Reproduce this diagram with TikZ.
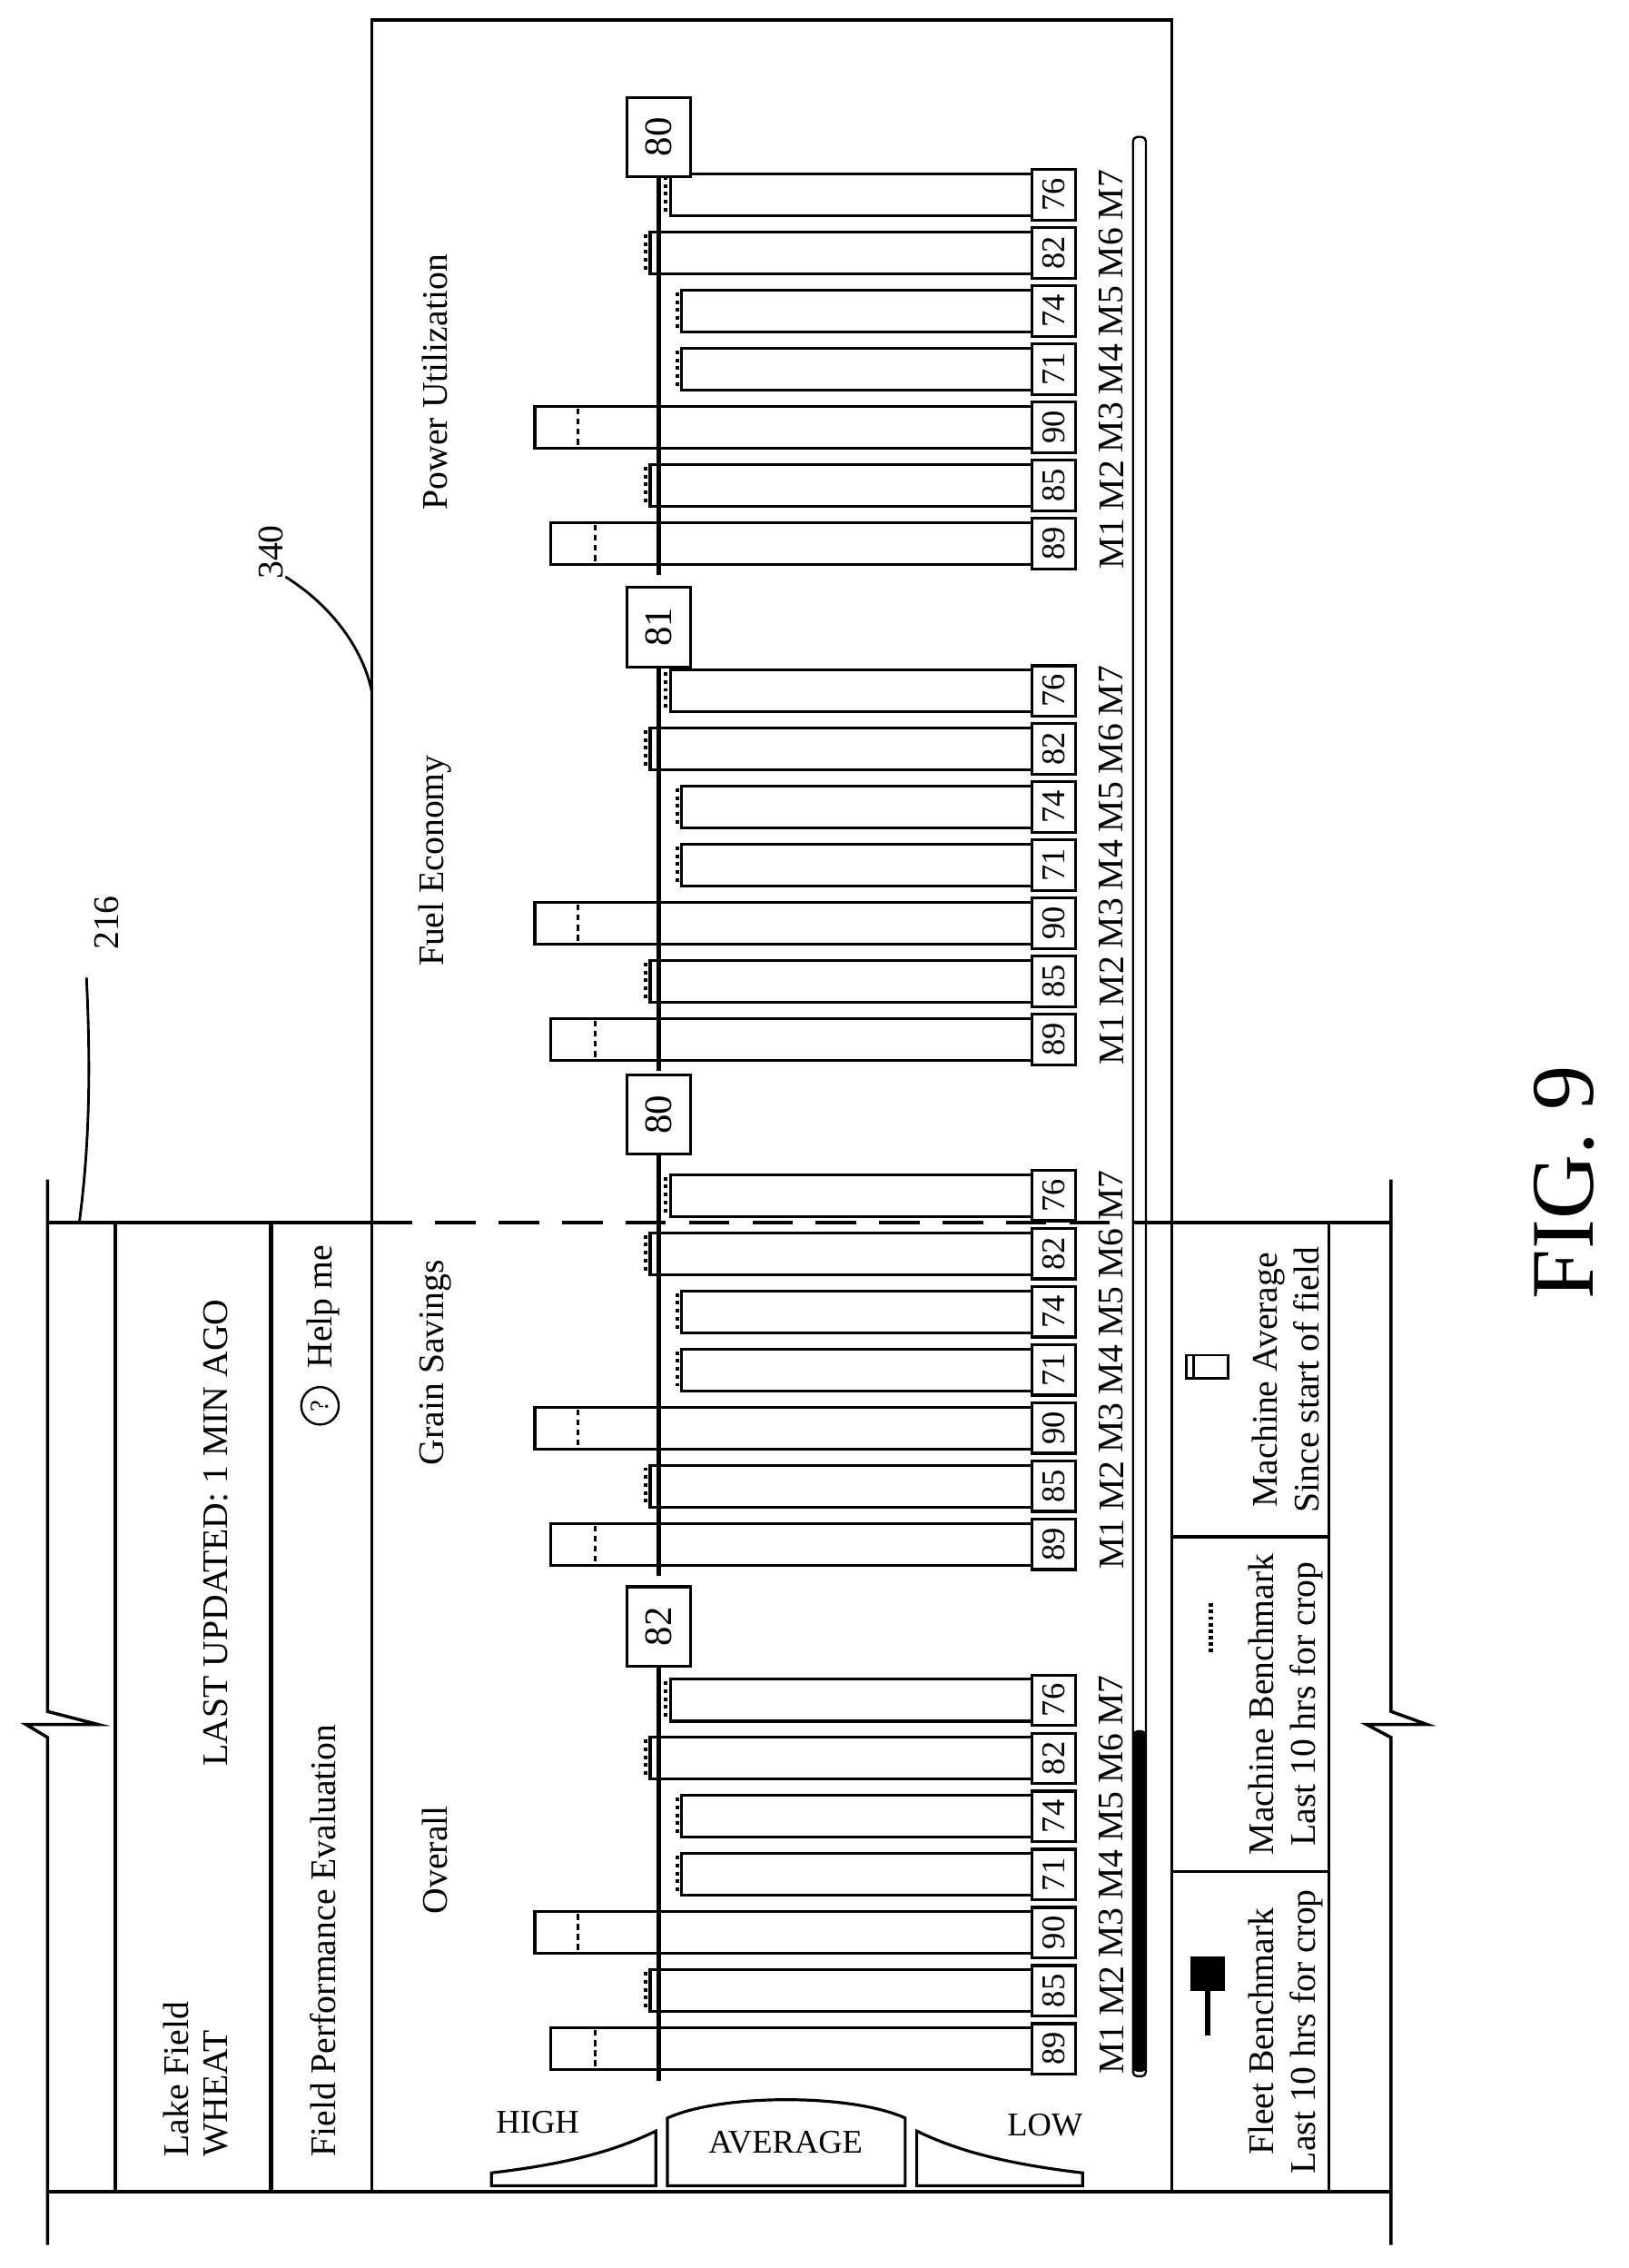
\documentclass[tikz,border=0pt]{standalone}
\usepackage{fontspec}
\setmainfont{Liberation Serif}
\begin{document}
\begin{tikzpicture}[x=1pt,y=-1pt,line width=2.2pt,
 txt/.style={font=\fontsize{25}{29}\selectfont, rotate=90, inner sep=0},
 up/.style={font=\fontsize{23}{26}\selectfont, inner sep=0},
 vbox/.style={draw, line width=2pt, rotate=90, minimum width=35pt, minimum height=30pt, inner sep=0, font=\fontsize{23}{24}\selectfont},
 abox/.style={draw, line width=2pt, rotate=90, minimum width=55pt, minimum height=44pt, inner sep=0, font=\fontsize{27}{28}\selectfont},
 bar/.style={line width=2pt},
 avgline/.style={line width=3.5pt},
 dotmark/.style={line width=2.6pt, dash pattern=on 2.5pt off 3pt},
 dashmark/.style={line width=1.8pt, dash pattern=on 4pt off 3pt},
 lead/.style={line width=1.8pt}]
\useasboundingbox (0,0) rectangle (1130,1573);
% outer frame
\draw (33,818) -- (33,1187) -- (68,1196) -- (18,1196) -- (33,1205) -- (33,1557);
\draw (965,818) -- (965,1187) -- (990,1196) -- (948,1196) -- (965,1205) -- (965,1557);
\draw (33,848) -- (258,848);
\draw (813,848) -- (965,848);
\draw[dash pattern=on 28pt off 16pt] (258,848) -- (813,848);
\draw (33,1520) -- (965,1520);
\draw (80,848) -- (80,1520);
\draw[line width=3pt] (188,848) -- (188,1520);
\draw (258,14) rectangle (813,1520);
\draw (922,848) -- (922,1520);
\draw (813,1066) -- (922,1066);
\draw (813,1298) -- (922,1298);
% header texts
\node[txt,anchor=west] (lake) at (122,1497) {Lake Field};
\node[txt,anchor=west] (wheat) at (150,1497) {WHEAT};
\node[txt] (upd) at (150,1063) {LAST UPDATED: 1 MIN AGO};
\node[txt,anchor=west] (fpe) at (224,1497) {Field Performance Evaluation};
\node[draw,circle,line width=1.5pt,minimum size=26pt,inner sep=0,rotate=90,font=\fontsize{18}{20}\selectfont] (help) at (222,975) {?};
\node[txt,anchor=west] (helpme) at (224,950) {Help me};
% labels 216 / 340
\node[txt] (l216) at (74,640) {216};
\draw[lead] (60,678) .. controls (64,760) and (60,810) .. (55,848);
\node[txt] (l340) at (188,383) {340};
\draw[lead] (198,400) .. controls (230,420) and (252,450) .. (258,480);
% groups
\foreach \g/\o/\av/\ay/\tt/\ty in {1/0/82/1128/Overall/1290, 2/-350/80/773/Grain Savings/945, 3/-700/81/435/Fuel Economy/597, 4/-1044/80/95/Power Utilization/265}{
  \node[txt] (title\g) at (302,\ty) {\tt};
  \foreach \i/\l/\m/\dx/\v in {1/382/d/413/89, 2/451/p/0/85, 3/371/d/401/90, 4/473/p/0/71, 5/473/p/0/74, 6/451/p/0/82, 7/465/p/0/76}{
    \pgfmathsetmacro\c{1421-40.3*(\i-1)+\o}
    \draw[bar] (\l,{\c-14.5}) rectangle (716,{\c+14.5});
    \if\m d
      \draw[dashmark] (\dx,{\c-13}) -- (\dx,{\c+13});
    \else
      \draw[dotmark] ({\l-3},{\c-13}) -- ({\l-3},{\c+13});
    \fi
    \node[vbox] (v\g\i) at (731,\c) {\v};
    \node[txt] (m\g\i) at (771,\c) {M\i};
  }
  \node[abox,fill=white] (avg\g) at (457,\ay) {\av};
  \draw[avgline] (457,{1443+\o}) -- (avg\g.west);
}
% HIGH / AVERAGE / LOW
\draw[line width=2pt] (341,1507) .. controls (400,1500) and (430,1490) .. (455,1478) -- (455,1516) -- (341,1516) -- cycle;
\draw[line width=2pt] (463,1516) -- (463,1469) .. controls (500,1452) and (591,1452) .. (628,1469) -- (628,1516) -- cycle;
\draw[line width=2pt] (636,1478) .. controls (661,1490) and (692,1500) .. (751,1507) -- (751,1516) -- (636,1516) -- cycle;
\node[up] (high) at (373,1472) {HIGH};
\node[up] (average) at (545,1486) {AVERAGE};
\node[up] (low) at (725,1474) {LOW};
% scrollbar
\draw[line width=1.5pt,rounded corners=3pt] (786,95) rectangle (795,1440);
\fill[rounded corners=3pt] (786,1200) rectangle (795,1437);
% legend
\fill (826,1357) rectangle (850,1381);
\draw[line width=4pt] (838,1381) -- (838,1412);
\node[txt,align=center] (leg1) at (892,1409) {Fleet Benchmark\\Last 10 hrs for crop};
\draw[line width=3pt,dash pattern=on 2.5pt off 2pt] (840,1112) -- (840,1146);
\node[txt,align=center] (leg2) at (892,1182) {Machine Benchmark\\Last 10 hrs for crop};
\draw[line width=1.5pt] (823,940) rectangle (852,956);
\draw[line width=1.5pt] (828,940) -- (828,956);
\node[txt,align=center] (leg3) at (892,957) {Machine Average\\Since start of field};
% figure label
\node[rotate=90,inner sep=0,font=\fontsize{62}{66}\selectfont] (fig) at (1085,820) {FIG. 9};
\end{tikzpicture}
\end{document}
